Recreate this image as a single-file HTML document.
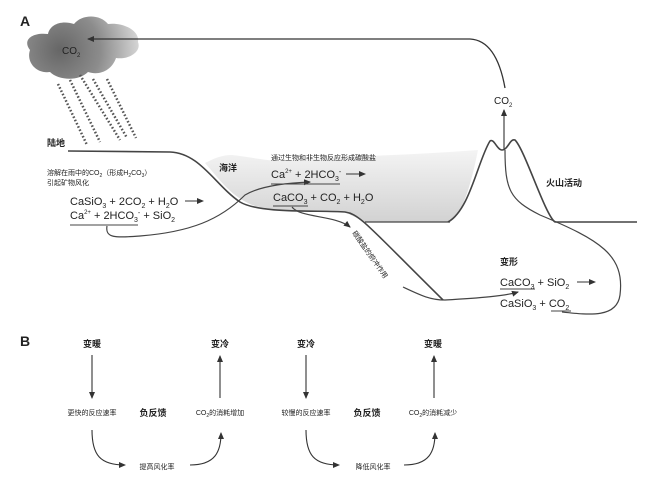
<!DOCTYPE html>
<html><head><meta charset="utf-8"><style>
body{margin:0;background:#fff}
svg{display:block}
text{font-family:"Liberation Sans","Noto Sans CJK SC",sans-serif;fill:#222}
.b{font-weight:bold}
</style></head><body>
<svg width="660" height="483" viewBox="0 0 660 483" xmlns="http://www.w3.org/2000/svg">
<defs>
<radialGradient id="cg" gradientUnits="userSpaceOnUse" cx="60" cy="50" r="90"><stop offset="0" stop-color="#666"/><stop offset="0.45" stop-color="#8c8c8c"/><stop offset="1" stop-color="#eaeaea"/></radialGradient>
<linearGradient id="og" x1="0" y1="0" x2="0" y2="1"><stop offset="0" stop-color="#f4f4f4"/><stop offset="1" stop-color="#d2d2d2"/></linearGradient>
<marker id="ah" markerWidth="8" markerHeight="8" refX="6" refY="4" orient="auto" markerUnits="userSpaceOnUse"><path d="M0,1 L7,4 L0,7 z" fill="#333"/></marker>
</defs>
<text x="20" y="26" class="b" font-size="14">A</text>
<path d="M30,50 C22,40 32,32 48,34 C50,24 62,20 74,24 C82,14 100,14 108,24 C122,22 140,30 138,42 C142,52 128,60 116,58 C112,70 100,76 88,72 C78,82 58,80 50,72 C36,74 26,62 30,50 z" fill="url(#cg)"/>
<text x="62" y="54" font-size="10">CO<tspan font-size="6" dy="3">2</tspan></text>
<g stroke="#555" stroke-width="2.5" stroke-dasharray="1.6 2">
<line x1="58" y1="84" x2="87" y2="145"/><line x1="70" y1="80" x2="100" y2="142"/><line x1="80" y1="75" x2="120" y2="140"/><line x1="93" y1="79" x2="127" y2="138"/><line x1="107" y1="79" x2="136" y2="138"/>
</g>
<path d="M505,88 C500,60 490,40 470,39 L88,39" fill="none" stroke="#333" stroke-width="1.3" marker-end="url(#ah)"/>
<path d="M205,163 C215,158 222,155 232,155 C250,157 262,160 280,161 C320,157 400,156 478,150 C472,180 465,205 455,218 L450,222 L365,222 L345,212 C320,210 280,212 255,206 C232,198 220,180 205,163 z" fill="url(#og)"/>
<path d="M68,151 L170,152 C200,153 215,185 240,202 C260,214 320,210 345,212 C360,214 370,228 443,300" fill="none" stroke="#444" stroke-width="1.6"/>
<path d="M448,222 C470,210 478,160 490,141 C494,138 497,150 502,150 C508,150 510,138 515,140 C525,150 545,215 555,222 L637,222" fill="none" stroke="#444" stroke-width="1.6"/>
<path d="M450,222 L365,222" fill="none" stroke="#444" stroke-width="1.3"/>
<line x1="504" y1="150" x2="504" y2="110" stroke="#444" stroke-width="1.2" marker-end="url(#ah)"/>
<text x="494" y="104" font-size="10">CO<tspan font-size="6" dy="3">2</tspan></text>
<path d="M505,150 C505,190 510,200 540,215 C600,240 625,255 620,295 C617,318 590,315 562,312" fill="none" stroke="#444" stroke-width="1.2"/>
<path d="M403,287 C420,295 430,300 445,300 C480,298 505,296 518,292" fill="none" stroke="#444" stroke-width="1.2" marker-end="url(#ah)"/>
<text x="47" y="146" class="b" font-size="9">陆地</text>
<text x="219" y="171" class="b" font-size="9">海洋</text>
<text x="546" y="186" class="b" font-size="9">火山活动</text>
<text x="47" y="175" font-size="7">溶解在雨中的CO<tspan font-size="5" dy="2">2</tspan><tspan dy="-2">（形成H</tspan><tspan font-size="5" dy="2">2</tspan><tspan dy="-2">CO</tspan><tspan font-size="5" dy="2">3</tspan><tspan dy="-2">）</tspan></text>
<text x="47" y="185" font-size="7">引起矿物风化</text>
<text x="70" y="205" font-size="11">CaSiO<tspan font-size="7" dy="3">3</tspan><tspan dy="-3"> + 2CO</tspan><tspan font-size="7" dy="3">2</tspan><tspan dy="-3"> + H</tspan><tspan font-size="7" dy="3">2</tspan><tspan dy="-3">O</tspan></text>
<line x1="185" y1="201" x2="203" y2="201" stroke="#333" marker-end="url(#ah)"/>
<text x="70" y="219" font-size="11">Ca<tspan font-size="6" dy="-5">2+</tspan><tspan dy="5"> + 2HCO</tspan><tspan font-size="7" dy="3">3</tspan><tspan font-size="7" dy="-7">-</tspan><tspan dy="4"> + SiO</tspan><tspan font-size="7" dy="3">2</tspan></text>
<line x1="70" y1="225" x2="138" y2="225" stroke="#444"/>
<path d="M107,226 C105,238 115,238 140,236 C190,232 220,220 245,195 C260,186 285,183 310,182" fill="none" stroke="#444" stroke-width="1.2" marker-end="url(#ah)"/>
<text x="271" y="160" font-size="7">通过生物和非生物反应形成碳酸盐</text>
<text x="271" y="178" font-size="11">Ca<tspan font-size="6" dy="-5">2+</tspan><tspan dy="5"> + 2HCO</tspan><tspan font-size="7" dy="3">3</tspan><tspan font-size="7" dy="-7">-</tspan></text>
<line x1="346" y1="174" x2="365" y2="174" stroke="#333" marker-end="url(#ah)"/>
<line x1="271" y1="184" x2="340" y2="184" stroke="#444"/>
<text x="273" y="201" font-size="11">CaCO<tspan font-size="7" dy="3">3</tspan><tspan dy="-3"> + CO</tspan><tspan font-size="7" dy="3">2</tspan><tspan dy="-3"> + H</tspan><tspan font-size="7" dy="3">2</tspan><tspan dy="-3">O</tspan></text>
<line x1="273" y1="206" x2="308" y2="206" stroke="#444"/>
<path d="M292,207 C300,218 335,215 350,227" fill="none" stroke="#444" stroke-width="1.2" marker-end="url(#ah)"/>
<text x="0" y="0" font-size="7" transform="translate(352,233) rotate(55)">碳酸盐的俯冲作用</text>
<text x="500" y="265" class="b" font-size="9">变形</text>
<text x="500" y="286" font-size="11">CaCO<tspan font-size="7" dy="3">3</tspan><tspan dy="-3"> + SiO</tspan><tspan font-size="7" dy="3">2</tspan></text>
<line x1="577" y1="282" x2="595" y2="282" stroke="#333" marker-end="url(#ah)"/>
<line x1="500" y1="289" x2="535" y2="289" stroke="#444"/>
<text x="500" y="307" font-size="11">CaSiO<tspan font-size="7" dy="3">3</tspan><tspan dy="-3"> + CO</tspan><tspan font-size="7" dy="3">2</tspan></text>
<line x1="551" y1="311" x2="571" y2="311" stroke="#444"/>
<text x="20" y="346" class="b" font-size="14">B</text>
<g font-size="8">
<text x="92" y="347" text-anchor="middle" class="b" font-size="9">变暖</text>
<text x="220" y="347" text-anchor="middle" class="b" font-size="9">变冷</text>
<text x="92" y="415" text-anchor="middle" font-size="7">更快的反应速率</text>
<text x="153" y="416" text-anchor="middle" class="b" font-size="9">负反馈</text>
<text x="220" y="415" text-anchor="middle" font-size="7">CO<tspan font-size="5" dy="2">2</tspan><tspan dy="-2">的消耗增加</tspan></text>
<text x="157" y="469" text-anchor="middle" font-size="7">提高风化率</text>
<text x="306" y="347" text-anchor="middle" class="b" font-size="9">变冷</text>
<text x="433" y="347" text-anchor="middle" class="b" font-size="9">变暖</text>
<text x="306" y="415" text-anchor="middle" font-size="7">较慢的反应速率</text>
<text x="367" y="416" text-anchor="middle" class="b" font-size="9">负反馈</text>
<text x="433" y="415" text-anchor="middle" font-size="7">CO<tspan font-size="5" dy="2">2</tspan><tspan dy="-2">的消耗减少</tspan></text>
<text x="373" y="469" text-anchor="middle" font-size="7">降低风化率</text>
</g>
<g fill="none" stroke="#333" stroke-width="1.1">
<line x1="92" y1="355" x2="92" y2="398" marker-end="url(#ah)"/>
<line x1="220" y1="398" x2="220" y2="356" marker-end="url(#ah)"/>
<path d="M92,430 C92,455 100,465 125,465" marker-end="url(#ah)"/>
<path d="M190,465 C215,465 221,452 221,433" marker-end="url(#ah)"/>
<line x1="306" y1="355" x2="306" y2="398" marker-end="url(#ah)"/>
<line x1="434" y1="398" x2="434" y2="356" marker-end="url(#ah)"/>
<path d="M306,430 C306,455 314,465 339,465" marker-end="url(#ah)"/>
<path d="M404,465 C429,465 435,452 435,433" marker-end="url(#ah)"/>
</g>
</svg>
</body></html>
